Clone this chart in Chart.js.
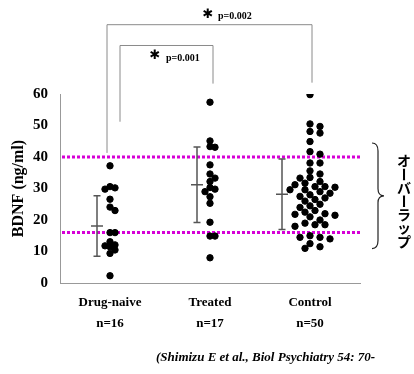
<!DOCTYPE html>
<html>
<head>
<meta charset="utf-8">
<script src="https://cdn.jsdelivr.net/npm/chart.js@4"></script>
<style>
  html, body { margin: 0; padding: 0; background: #fff; }
  canvas { display: block; }
</style>
</head>
<body>
<canvas id="grafico" width="414" height="374"></canvas>
<script>
// dados
const groups = ['Drug-naive', 'Treated', 'Control'];
const counts = ['n=16', 'n=17', 'n=50'];
const drugNaive = [37.2, 30.6, 30.2, 29.8, 26.6, 24.1, 23.0, 16.0, 16.0, 13.1, 12.1, 11.8, 11.5, 10.5, 9.4, 2.3];
const treated = [57.4, 45.1, 43.3, 43.1, 37.5, 34.6, 33.3, 32.2, 30.3, 29.8, 29.0, 27.4, 25.3, 19.3, 14.9, 14.9, 8.0];
const control = [59.8, 50.5, 49.7, 48.1, 47.6, 44.9, 41.7, 40.9, 38.1, 38.1,
  35.6, 34.6, 33.5, 33.3, 32.2, 31.7, 31.2, 30.6, 30.6, 30.4,
  29.6, 29.6, 29.0, 28.5, 28.0, 27.5, 27.0, 26.5, 26.0, 25.0,
  24.5, 24.0, 23.0, 22.5, 22.0, 21.8, 21.5, 21.0, 20.0, 19.0,
  18.5, 18.5, 18.0, 15.0, 14.5, 14.5, 14.0, 12.5, 11.5, 11.0];
const means = [18.1, 31.2, 28.2];
const sds = [9.6, 12.0, 11.2];
const overlap = [16, 40];
const pLabels = ['p=0.001', 'p=0.002'];
const sideLabel = 'オーバーラップ';
const citation = '(Shimizu E et al., Biol Psychiatry 54: 70-';

const serif = "'Liberation Serif', 'DejaVu Serif', serif";

// espalha os pontos (beeswarm simples) para não se sobreporem
function swarm(values, center, minDist) {
  const step = 0.05, pxX = 100, pxY = 3.15;
  const placed = [];
  values.forEach(v => {
    for (let i = 0; i < 20; i++) {
      const k = i === 0 ? 0 : (i % 2 ? Math.ceil(i / 2) : -Math.ceil(i / 2));
      const ok = placed.every(p => {
        const dx = (k - p.k) * step * pxX, dy = (v - p.y) * pxY;
        return Math.hypot(dx, dy) >= minDist;
      });
      if (ok) { placed.push({ k, y: v }); break; }
    }
  });
  return placed.map(p => ({ x: center + p.k * step, y: p.y }));
}

const gaps = [5, 5, 6.5];
const series = [drugNaive, treated, control].map((vals, i) => swarm(vals, i + 1, gaps[i]));

const pontos = series.map((pts, i) => ({
  label: groups[i],
  data: pts,
  backgroundColor: '#000',
  borderColor: '#000',
  pointRadius: 3.2,
  pointHoverRadius: 3.2,
  order: 1
}));

const linhas = overlap.map(v => ({
  type: 'line',
  label: 'overlap ' + v,
  data: [{ x: 0.52, y: v }, { x: 3.5, y: v }],
  borderColor: '#d600d6',
  borderWidth: 3,
  borderDash: [3, 2],
  borderCapStyle: 'butt',
  pointRadius: 0,
  order: 2
}));

const anotacoes = {
  id: 'anotacoes',
  afterDraw(chart) {
    const { ctx, scales: { x, y }, chartArea } = chart;
    ctx.save();

    // barras de erro (média ± DP)
    ctx.strokeStyle = '#555';
    ctx.lineWidth = 1.5;
    series.forEach((pts, i) => {
      const minX = Math.min(...pts.map(p => p.x));
      const bx = x.getPixelForValue(minX - 0.08);
      const top = y.getPixelForValue(means[i] + sds[i]);
      const bot = y.getPixelForValue(means[i] - sds[i]);
      const m = y.getPixelForValue(means[i]);
      ctx.beginPath();
      ctx.moveTo(bx, top); ctx.lineTo(bx, bot);
      ctx.moveTo(bx - 3.5, top); ctx.lineTo(bx + 3.5, top);
      ctx.moveTo(bx - 3.5, bot); ctx.lineTo(bx + 3.5, bot);
      ctx.moveTo(bx - 6, m); ctx.lineTo(bx + 6, m);
      ctx.stroke();
    });

    // colchetes de significância
    ctx.strokeStyle = '#8a8a8a';
    ctx.lineWidth = 1;
    const bracket = (x1, x2, yTop, y1, y2) => {
      ctx.beginPath();
      ctx.moveTo(x.getPixelForValue(x1), y.getPixelForValue(y1));
      ctx.lineTo(x.getPixelForValue(x1), y.getPixelForValue(yTop));
      ctx.lineTo(x.getPixelForValue(x2), y.getPixelForValue(yTop));
      ctx.lineTo(x.getPixelForValue(x2), y.getPixelForValue(y2));
      ctx.stroke();
    };
    bracket(0.97, 3.02, 82, 41.3, 63.6);
    bracket(1.1, 2.03, 75.4, 51.2, 63.3);

    ctx.fillStyle = '#000';
    ctx.textBaseline = 'middle';
    ctx.textAlign = 'center';
    ctx.font = "bold 13px 'DejaVu Sans'";
    ctx.fillText('✱', 208, 15);
    ctx.fillText('✱', 155, 56);
    ctx.textAlign = 'left';
    ctx.font = 'bold 10px ' + serif;
    ctx.fillText(pLabels[1], 218, 16);
    ctx.fillText(pLabels[0], 166, 58);

    // chave à direita
    const top = y.getPixelForValue(overlap[1]) - 14;
    const bot = y.getPixelForValue(overlap[0]) + 16;
    const mid = (top + bot) / 2;
    const bx = chartArea.right + 12;
    ctx.strokeStyle = '#222';
    ctx.lineWidth = 1.2;
    ctx.beginPath();
    ctx.moveTo(bx, top);
    ctx.quadraticCurveTo(bx + 6, top, bx + 6, top + 8);
    ctx.lineTo(bx + 6, mid - 7);
    ctx.quadraticCurveTo(bx + 6, mid, bx + 12, mid);
    ctx.quadraticCurveTo(bx + 6, mid, bx + 6, mid + 7);
    ctx.lineTo(bx + 6, bot - 8);
    ctx.quadraticCurveTo(bx + 6, bot, bx, bot);
    ctx.stroke();

    // texto vertical
    ctx.font = "bold 14px 'Noto Sans CJK JP'";
    ctx.textAlign = 'center';
    ctx.textBaseline = 'middle';
    [...sideLabel].forEach((ch, i) => {
      const cy = 161 + i * 13.4;
      if (ch === 'ー') {
        ctx.save();
        ctx.translate(404, cy);
        ctx.rotate(Math.PI / 2);
        ctx.fillText(ch, 0, 0);
        ctx.restore();
      } else {
        ctx.fillText(ch, 404, cy);
      }
    });

    // referência
    ctx.font = 'italic bold 13px ' + serif;
    ctx.textAlign = 'left';
    ctx.textBaseline = 'alphabetic';
    ctx.fillText(citation, 156, 361);
    ctx.restore();
  }
};

const ctxG = document.getElementById('grafico').getContext('2d');
new Chart(ctxG, {
  type: 'scatter',
  data: { datasets: [...pontos, ...linhas] },
  options: {
    responsive: false,
    animation: false,
    layout: { padding: { top: 94, right: 54, left: 0, bottom: 0 } },
    plugins: {
      legend: { display: false },
      tooltip: { enabled: false }
    },
    scales: {
      x: {
        type: 'linear',
        min: 0.5,
        max: 3.5,
        afterFit: s => { s.height = 91; },
        afterBuildTicks: s => { s.ticks = groups.map((g, i) => ({ value: i + 1 })); },
        grid: { display: false },
        border: { display: true, color: '#999', width: 1 },
        ticks: {
          padding: 2,
          color: '#000',
          maxRotation: 0,
          autoSkip: false,
          font: { family: serif, size: 13, weight: 'bold', lineHeight: 1.55 },
          callback: v => [groups[v - 1], counts[v - 1]]
        }
      },
      y: {
        min: 0,
        max: 60,
        afterFit: s => { s.width = 60; },
        grid: { display: false },
        border: { display: true, color: '#999', width: 1 },
        ticks: {
          stepSize: 10,
          padding: 4,
          color: '#000',
          font: { family: serif, size: 15, weight: 'bold' }
        },
        title: {
          display: true,
          text: 'BDNF (ng/ml)',
          color: '#000',
          padding: { top: 9, bottom: 0 },
          font: { family: serif, size: 16, weight: 'bold' }
        }
      }
    }
  },
  plugins: [anotacoes]
});
</script>
</body>
</html>
